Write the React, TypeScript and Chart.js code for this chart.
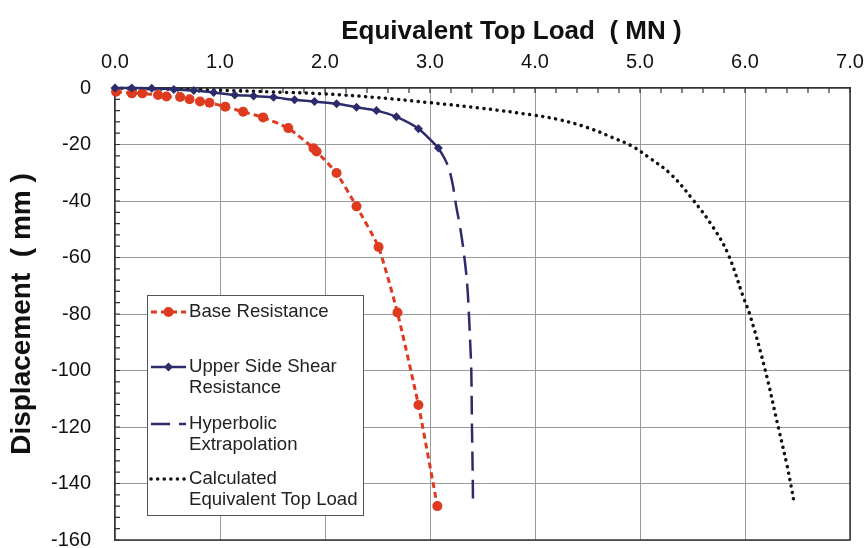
import React, { useEffect, useRef } from "react";
import { Chart, registerables } from "chart.js";

Chart.register(...registerables);

// Axis ticks
const loadTicks = [0, 1, 2, 3, 4, 5, 6, 7];
const dispTicks = [0, -20, -40, -60, -80, -100, -120, -140, -160];
const loadMinorStep = 0.2;
const dispMinorStep = 4;

// Base resistance (MN, mm)
const baseLoad = [0.01, 0.16, 0.26, 0.41, 0.49, 0.62, 0.71, 0.81, 0.9, 1.05, 1.22, 1.41, 1.65, 1.89, 1.92, 2.11, 2.3, 2.51, 2.69, 2.89, 3.07];
const baseDisp = [-1.3, -1.9, -1.9, -2.5, -3.0, -3.2, -4.0, -4.8, -5.2, -6.6, -8.4, -10.4, -14.2, -21.3, -22.5, -30.1, -41.9, -56.3, -79.5, -112.2, -148];

// Upper side shear resistance
const shearLoad = [0, 0.16, 0.35, 0.56, 0.75, 0.94, 1.14, 1.32, 1.51, 1.71, 1.9, 2.11, 2.3, 2.49, 2.68, 2.89, 3.08];
const shearDisp = [0, 0, -0.1, -0.5, -0.9, -1.6, -2.5, -2.8, -3.3, -4.2, -4.8, -5.6, -6.8, -8.0, -10.2, -14.4, -21.2];

// Hyperbolic extrapolation of the side shear curve
const hypLoad = [3.08, 3.16, 3.21, 3.25, 3.29, 3.33, 3.355, 3.37, 3.385, 3.393, 3.4, 3.406, 3.41];
const hypDisp = [-21.2, -26.6, -33, -41.9, -50, -60.7, -70, -79.5, -92, -99.5, -120.6, -135, -147.7];

// Calculated equivalent top load
const calcLoad = [0, 0.5, 1.0, 1.5, 2.0, 2.5, 3.0, 3.5, 4.0, 4.24, 4.5, 4.73, 4.92, 5.1, 5.29, 5.49, 5.7, 5.84, 5.98, 6.05, 6.19, 6.32, 6.4, 6.47];
const calcDisp = [0, -0.4, -0.8, -1.4, -2.1, -3.4, -5.2, -7.2, -9.7, -11.3, -14, -17.4, -20.5, -25, -30.4, -38.9, -49.5, -58.9, -73.6, -80.7, -99.5, -120.6, -133.6, -147.1];

const seriesLabels = [
  "Base Resistance",
  "Upper Side Shear\nResistance",
  "Hyperbolic\nExtrapolation",
  "Calculated\nEquivalent Top Load",
];

const xTitle = "        Equivalent Top Load  ( MN )";
const yTitle = "Displacement  ( mm )";

const RED = "#de3a1f";
const NAVY = "#2c2c6c";
const BLACK = "#111111";
const FONT = '"Liberation Sans", Arial, sans-serif';

const toPoints = (xs: number[], ys: number[]) => xs.map((x, i) => ({ x, y: ys[i] }));

// Frame on the right/bottom and short inward minor ticks along the top and left axes
const axisFrame = {
  id: "axisFrame",
  beforeDatasetsDraw(chart: any) {
    const { ctx, chartArea: a, scales } = chart;
    const xs = scales.x;
    const ys = scales.y;
    ctx.save();
    ctx.strokeStyle = "#333";
    ctx.lineWidth = 1.5;
    ctx.beginPath();
    ctx.moveTo(a.right, a.top);
    ctx.lineTo(a.right, a.bottom);
    ctx.lineTo(a.left, a.bottom);
    ctx.stroke();
    ctx.lineWidth = 1.2;
    ctx.beginPath();
    const xMax = loadTicks[loadTicks.length - 1];
    for (let i = 0; i * loadMinorStep <= xMax + 1e-9; i++) {
      const px = xs.getPixelForValue(i * loadMinorStep);
      ctx.moveTo(px, a.top);
      ctx.lineTo(px, a.top + 5);
    }
    const yMin = dispTicks[dispTicks.length - 1];
    for (let i = 0; -i * dispMinorStep >= yMin; i++) {
      const py = ys.getPixelForValue(-i * dispMinorStep);
      ctx.moveTo(a.left, py);
      ctx.lineTo(a.left + 5, py);
    }
    ctx.stroke();
    ctx.restore();
  },
};

// Boxed legend inside the plot with multi-line labels
const boxLegend = {
  id: "boxLegend",
  afterDraw(chart: any) {
    const { ctx, chartArea: a } = chart;
    const bx = a.left + 32;
    const by = a.top + 207;
    const bw = 216;
    const bh = 220;
    ctx.save();
    ctx.fillStyle = "#ffffff";
    ctx.fillRect(bx, by, bw, bh);
    ctx.strokeStyle = "#555";
    ctx.lineWidth = 1;
    ctx.strokeRect(bx + 0.5, by + 0.5, bw, bh);
    const rowOffsets = [17, 72, 129, 184];
    chart.data.datasets.forEach((ds: any, i: number) => {
      const y = by + rowOffsets[i];
      const x0 = bx + 4;
      const x1 = bx + 39;
      ctx.save();
      ctx.strokeStyle = ds.borderColor;
      ctx.lineWidth = ds.borderWidth;
      ctx.lineCap = ds.borderCapStyle || "butt";
      ctx.setLineDash(ds.borderDash || []);
      ctx.beginPath();
      ctx.moveTo(x0, y);
      ctx.lineTo(x1, y);
      ctx.stroke();
      ctx.setLineDash([]);
      const cx = (x0 + x1) / 2;
      if (ds.pointRadius > 0) {
        ctx.fillStyle = ds.backgroundColor;
        ctx.beginPath();
        if (ds.pointStyle === "rectRot") {
          const r = ds.pointRadius;
          ctx.moveTo(cx, y - r);
          ctx.lineTo(cx + r, y);
          ctx.lineTo(cx, y + r);
          ctx.lineTo(cx - r, y);
          ctx.closePath();
        } else {
          ctx.arc(cx, y, ds.pointRadius, 0, Math.PI * 2);
        }
        ctx.fill();
      }
      ctx.restore();
      ctx.fillStyle = "#222";
      ctx.font = `18.6px ${FONT}`;
      ctx.textBaseline = "middle";
      ctx.textAlign = "left";
      String(ds.label)
        .split("\n")
        .forEach((line: string, k: number) => ctx.fillText(line, bx + 42, y + k * 21));
    });
    ctx.restore();
  },
};

export default function App() {
  const canvasRef = useRef<HTMLCanvasElement | null>(null);

  useEffect(() => {
    if (!canvasRef.current) return;
    const chart = new Chart(canvasRef.current, {
      type: "scatter",
      data: {
        datasets: [
          {
            label: seriesLabels[0],
            data: toPoints(baseLoad, baseDisp),
            showLine: true,
            borderColor: RED,
            backgroundColor: RED,
            borderWidth: 3,
            borderDash: [6, 4],
            pointStyle: "circle",
            pointRadius: 5,
            pointBorderWidth: 0,
            tension: 0.15,
            clip: false,
            order: 1,
          },
          {
            label: seriesLabels[1],
            data: toPoints(shearLoad, shearDisp),
            showLine: true,
            borderColor: NAVY,
            backgroundColor: NAVY,
            borderWidth: 2.5,
            pointStyle: "rectRot",
            pointRadius: 4.5,
            pointBorderWidth: 0,
            tension: 0.3,
            clip: false,
            order: 0,
          },
          {
            label: seriesLabels[2],
            data: toPoints(hypLoad, hypDisp),
            showLine: true,
            borderColor: NAVY,
            backgroundColor: NAVY,
            borderWidth: 2.5,
            borderDash: [19, 9],
            pointRadius: 0,
            tension: 0.4,
            clip: false,
            order: 2,
          },
          {
            label: seriesLabels[3],
            data: toPoints(calcLoad, calcDisp),
            showLine: true,
            borderColor: BLACK,
            backgroundColor: BLACK,
            borderWidth: 3.5,
            borderDash: [0.1, 6.5],
            borderCapStyle: "round",
            pointRadius: 0,
            tension: 0.4,
            clip: false,
            order: 3,
          },
        ] as any,
      },
      options: {
        animation: false,
        responsive: false,
        devicePixelRatio: 1,
        layout: { padding: { left: 0, top: 0, right: 18, bottom: 8 } },
        plugins: {
          legend: { display: false },
          tooltip: { enabled: false },
        },
        scales: {
          x: {
            type: "linear",
            position: "top",
            min: loadTicks[0],
            max: loadTicks[loadTicks.length - 1],
            afterBuildTicks: (s: any) => {
              s.ticks = loadTicks.map((v) => ({ value: v }));
            },
            afterFit: (s: any) => {
              s.height = 88;
              s.paddingLeft = 0;
              s.paddingRight = 0;
            },
            ticks: {
              callback: (v: any) => Number(v).toFixed(1),
              font: { family: FONT, size: 20 },
              color: "#111",
              padding: 14,
              maxRotation: 0,
            },
            grid: { color: "#9a9a9a", lineWidth: 1, drawTicks: false },
            border: { color: "#333", width: 1.5 },
            title: {
              display: true,
              text: xTitle,
              font: { family: FONT, size: 26, weight: "bold" },
              color: "#111",
              padding: { top: 16, bottom: 0 },
            },
          },
          y: {
            type: "linear",
            position: "left",
            min: dispTicks[dispTicks.length - 1],
            max: dispTicks[0],
            afterBuildTicks: (s: any) => {
              s.ticks = dispTicks.map((v) => ({ value: v }));
            },
            afterFit: (s: any) => {
              s.width = 115;
              s.paddingTop = 0;
              s.paddingBottom = 0;
            },
            ticks: {
              font: { family: FONT, size: 20 },
              color: "#111",
              padding: 24,
            },
            grid: { color: "#9a9a9a", lineWidth: 1, drawTicks: false },
            border: { color: "#333", width: 1.5 },
            title: {
              display: true,
              text: yTitle,
              font: { family: FONT, size: 28, weight: "bold" },
              color: "#111",
              padding: { top: 5, bottom: 0 },
            },
          },
        },
      } as any,
      plugins: [axisFrame, boxLegend],
    });
    return () => chart.destroy();
  }, []);

  return (
    <div style={{ position: "fixed", left: 0, top: 0, width: 868, height: 548, background: "#ffffff" }}>
      <canvas ref={canvasRef} width={868} height={548} style={{ width: 868, height: 548, display: "block" }} />
    </div>
  );
}
